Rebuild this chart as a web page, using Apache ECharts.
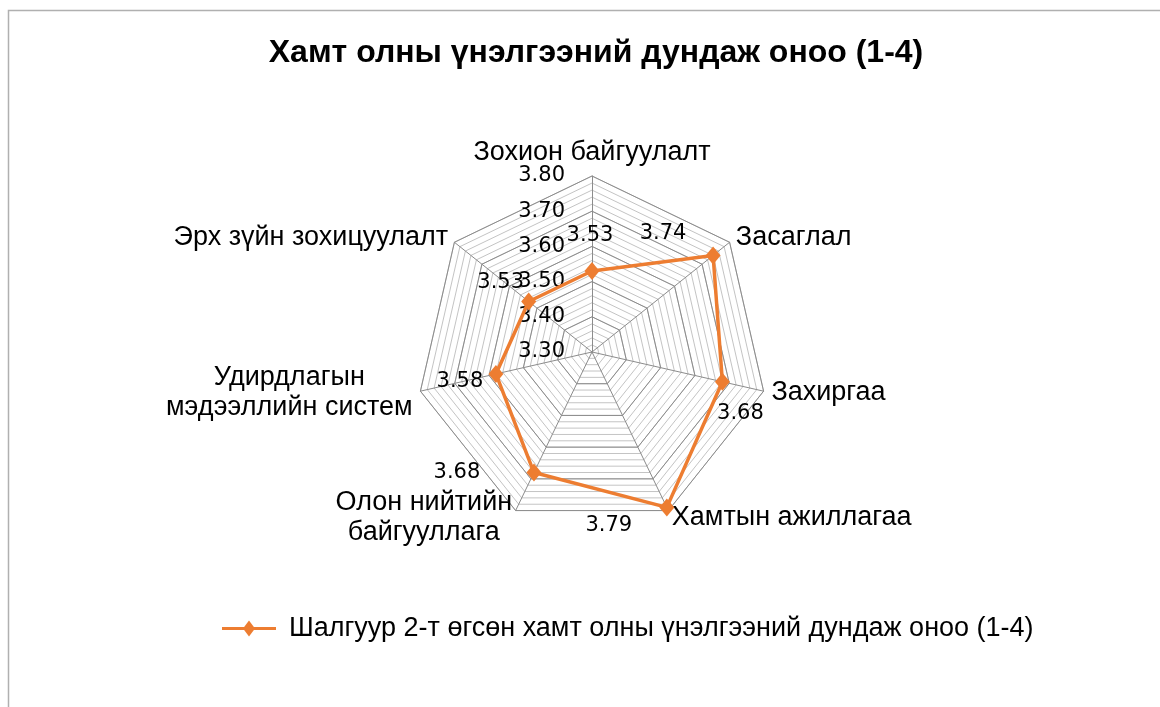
<!DOCTYPE html>
<html>
<head>
<meta charset="utf-8">
<script src="https://cdn.jsdelivr.net/npm/echarts@6/dist/echarts.min.js"></script>
<style>
html, body { margin: 0; padding: 0; background: #fff; }
#chart { width: 1160px; height: 707px; }
</style>
</head>
<body>
<div id="chart"></div>
<script>
var titleText = 'Хамт олны үнэлгээний дундаж оноо (1-4)';
var seriesName = 'Шалгуур 2-т өгсөн хамт олны үнэлгээний дундаж оноо (1-4)';
var categories = [
    'Зохион байгуулалт',
    'Засаглал',
    'Захиргаа',
    'Хамтын ажиллагаа',
    'Олон нийтийн\nбайгууллага',
    'Удирдлагын\nмэдээллийн систем',
    'Эрх зүйн зохицуулалт'
];
var scores = [3.53, 3.74, 3.68, 3.79, 3.68, 3.58, 3.53];
var axisMin = 3.3;
var axisMax = 3.8;
var majorSplits = 5;   // 0.10 steps
var minorSplits = 25;  // 0.02 steps

var cx = 592, cy = 352, R = 176;
// where each value label sits relative to its marker (like Excel put them)
var labelOffsets = [[-2, -35], [-50, -22], [18, 32], [-58, 18], [-77, 0], [-36, 8], [-28, -19]];

// echarts walks the radar anticlockwise, Excel clockwise: feed it in reverse after the first
var order = [0];
for (var k = categories.length - 1; k > 0; k--) order.push(k);

var chart = echarts.init(document.getElementById('chart'));

function indicators(withLabel) {
    return order.map(function (idx, i) {
        return {
            name: categories[idx],
            min: axisMin,
            max: axisMax,
            axisLabel: { show: withLabel && i === 0 }
        };
    });
}

var option = {
    animation: false,
    backgroundColor: '#fff',
    title: {
        text: titleText,
        left: 591,
        top: 32,
        textAlign: 'center',
        textStyle: {
            fontFamily: 'Liberation Sans',
            fontWeight: 'bold',
            fontSize: 32,
            color: '#000'
        }
    },
    graphic: [{
        type: 'rect',
        shape: { x: 8.5, y: 10.5, width: 1200, height: 800 },
        style: { fill: 'none', stroke: '#b0b0b0', lineWidth: 1.5 },
        silent: true
    }],
    legend: {
        left: 222,
        top: 615,
        padding: 0,
        itemWidth: 54,
        itemHeight: 16,
        itemGap: 10,
        data: [{
            name: seriesName,
            icon: 'path://M0 6.5H54V9.5H0Z M27 0L33 8L27 16L21 8Z'
        }],
        itemStyle: { borderWidth: 0 },
        textStyle: {
            fontFamily: 'Liberation Sans',
            fontSize: 27,
            color: '#000',
            padding: [0, 0, 0, 8]
        }
    },
    radar: [{
        // minor rings every 0.02, plus spokes and names
        center: [cx, cy],
        radius: R,
        startAngle: 90,
        splitNumber: minorSplits,
        shape: 'polygon',
        indicator: indicators(false),
        axisName: {
            color: '#000',
            fontFamily: 'Liberation Sans',
            fontSize: 27,
            formatter: function (v) {
                return v.split('\n').map(function (l) { return '{c|' + l + '}'; }).join('\n');
            },
            rich: {
                c: { align: 'center', fontFamily: 'Liberation Sans', fontSize: 27, lineHeight: 30, color: '#000' }
            }
        },
        nameGap: 8,
        splitArea: { show: false },
        splitLine: { lineStyle: { color: '#c4c4c4', width: 1 } },
        axisLine: { lineStyle: { color: '#8c8c8c', width: 1 } },
        axisTick: { show: false },
        axisLabel: { show: false }
    }, {
        // major rings every 0.10 with the tick labels on the first spoke
        center: [cx, cy],
        radius: R,
        startAngle: 90,
        splitNumber: majorSplits,
        shape: 'polygon',
        indicator: indicators(true),
        axisName: { show: false },
        splitArea: { show: false },
        splitLine: { lineStyle: { color: '#8c8c8c', width: 1 } },
        axisLine: { show: false },
        axisTick: { show: false },
        axisLabel: {
            show: false,
            margin: 27,
            fontFamily: 'DejaVu Sans',
            fontSize: 21,
            color: '#000',
            formatter: function (v) { return Number(v).toFixed(2); }
        }
    }],
    series: [{
        name: seriesName,
        type: 'radar',
        radarIndex: 1,
        symbol: 'diamond',
        symbolSize: [15, 18],
        lineStyle: { color: '#ED7D31', width: 3.5 },
        itemStyle: { color: '#ED7D31' },
        label: {
            show: true,
            position: 'inside',
            fontFamily: 'DejaVu Sans',
            fontSize: 21,
            color: '#000',
            formatter: function (p) { return Number(p.value).toFixed(2); }
        },
        labelLayout: function (p) {
            var r = p.rect;
            var x = r.x + r.width / 2, y = r.y + r.height / 2;
            var a = Math.atan2(x - cx, cy - y);
            if (a < 0) a += 2 * Math.PI;
            var n = categories.length;
            var i = Math.round(a / (2 * Math.PI / n)) % n;
            var o = labelOffsets[i];
            return { x: x + o[0], y: y + o[1], align: 'center', verticalAlign: 'middle' };
        },
        data: [{ name: seriesName, value: order.map(function (idx) { return scores[idx]; }) }]
    }]
};

chart.setOption(option);
</script>
</body>
</html>
